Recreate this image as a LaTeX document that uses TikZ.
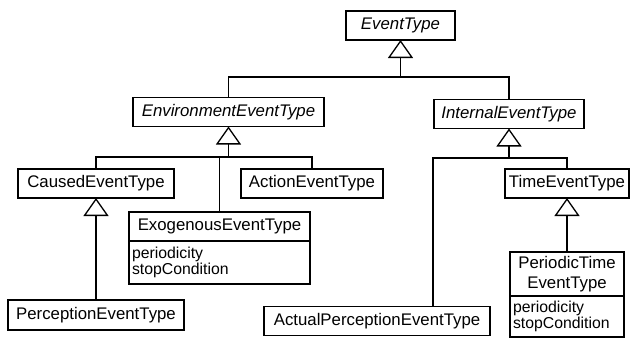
\documentclass[tikz,border=0pt]{standalone}
\usepackage{fontspec}
\setmainfont{Liberation Sans}
\usetikzlibrary{arrows.meta,positioning}

\newcommand{\clsfont}{\fontsize{8.4}{10}\selectfont}
\newcommand{\attrfont}{\fontsize{7.9}{8.2}\selectfont}

\begin{document}
\begin{tikzpicture}[x=0.5pt,y=-0.5pt,line width=0.65pt,every node/.style={font=\clsfont},
  cls/.style={draw,inner sep=0pt,outer sep=0pt,minimum height=14.5pt,align=center},
  abs/.style={cls,font=\clsfont\itshape},
  attr/.style={draw,inner xsep=1.5pt,inner ysep=0pt,outer sep=0pt,align=left,font=\attrfont},
  gen/.style={-{Triangle[open,length=9pt,width=12.5pt]}}]
  \useasboundingbox (0,0) rectangle (630,338);
  % abstract types
  \node[abs,minimum width=54.5pt] (et) at (400.5,25.5) {EventType};
  \node[abs,minimum width=95.5pt] (env) at (228.5,112) {EnvironmentEventType};
  \node[abs,minimum width=75pt] (int) at (509,114) {InternalEventType};
  % concrete types
  \node[cls,minimum width=78pt] (caused) at (96,183.5) {CausedEventType};
  \node[cls,minimum width=71pt] (action) at (312,183.5) {ActionEventType};
  \node[cls,minimum width=62pt] (time) at (567,183.5) {TimeEventType};
  \node[cls,minimum width=90.5pt] (exo) at (219.5,226.5) {ExogenousEventType};
  \node[attr,text width=87.5pt,minimum height=21.5pt,below=0pt of exo] (exoattr) {periodicity\\stopCondition};
  \node[cls,minimum width=88pt,minimum height=15pt] (perc) at (96,315) {PerceptionEventType};
  \node[cls,minimum width=113pt] (actual) at (377,321) {ActualPerceptionEventType};
  \node[cls,minimum width=57pt,minimum height=22pt] (phead) at (567,274) {PeriodicTime\\EventType};
  \node[attr,text width=54pt,minimum height=20.5pt,below=0pt of phead] (pattr) {periodicity\\stopCondition};
  % generalisations
  \coordinate (top) at (400.5,77);
  \coordinate (envhub) at (228.5,157);
  \coordinate (inthub) at (509,158);
  \draw (env.north) |- (top) -| (int.north);
  \draw[gen] (top) -- (et.south);
  \draw (caused.north) |- (envhub) -| (action.north);
  \draw (exo.north) -- (exo.north |- envhub);
  \draw[gen] (envhub) -- (env.south);
  \draw ([xshift=28pt]actual.north) |- (inthub) -| (time.north);
  \draw[gen] (inthub) -- (int.south);
  \draw[gen] (perc.north) -- (caused.south);
  \draw[gen] (phead.north) -- (time.south);
\end{tikzpicture}
\end{document}
